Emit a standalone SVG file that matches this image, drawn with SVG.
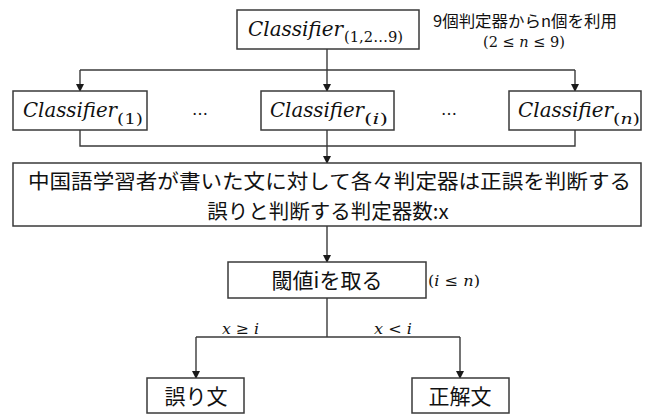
<svg xmlns="http://www.w3.org/2000/svg" width="648" height="414" viewBox="0 0 648 414">
<defs>
<style>
.box{fill:#fff;stroke:#3a3a3a;stroke-width:1.5}
.ln{fill:none;stroke:#3a3a3a;stroke-width:1.4}
.jp{font-family:"Noto Sans CJK JP","Noto Sans",sans-serif;fill:#111}
.m{font-family:"DejaVu Serif","Liberation Serif",serif;font-style:italic;fill:#111}
.up{font-family:"DejaVu Serif","Liberation Serif",serif;fill:#111}
</style>
<marker id="ah" markerWidth="8" markerHeight="8" refX="7" refY="4" orient="auto" markerUnits="userSpaceOnUse">
<path d="M0,0 L8,4 L0,8 Z" fill="#1a1a1a"/>
</marker>
</defs>
<rect width="648" height="414" fill="#fff"/>
<g id="connectors">
<path class="ln" d="M327,49 V70"/>
<path class="ln" d="M80,70 H575" />
<path class="ln" d="M80,70 V91" marker-end="url(#ah)"/>
<path class="ln" d="M327,70 V91" marker-end="url(#ah)"/>
<path class="ln" d="M575,70 V91" marker-end="url(#ah)"/>
<path class="ln" d="M80,130 V146 H575 V130"/>
<path class="ln" d="M327,130 V163" marker-end="url(#ah)"/>
<path class="ln" d="M327,226 V262" marker-end="url(#ah)"/>
<path class="ln" d="M327,298 V337"/>
<path class="ln" d="M196,337 H460"/>
<path class="ln" d="M196,337 V378" marker-end="url(#ah)"/>
<path class="ln" d="M460,337 V378" marker-end="url(#ah)"/>
<text class="m" x="222" y="334" font-size="15" textLength="37" lengthAdjust="spacingAndGlyphs">x ≥ i</text>
<text class="m" x="374" y="334" font-size="15" textLength="38" lengthAdjust="spacingAndGlyphs">x &lt; i</text>
</g>
<g id="top">
<rect class="box" x="237" y="10" width="182" height="39"/>
<text class="m" x="248" y="36" font-size="20" textLength="95" lengthAdjust="spacingAndGlyphs">Classifier</text>
<text class="up" x="344" y="42" font-size="14" textLength="59" lengthAdjust="spacingAndGlyphs">(1,2…9)</text>
</g>
<g id="note">
<text class="jp" x="433" y="27" font-size="16" textLength="184" lengthAdjust="spacingAndGlyphs">9個判定器からn個を利用</text>
<text class="up" x="483" y="47" font-size="15" textLength="82" lengthAdjust="spacingAndGlyphs">(2 ≤ <tspan font-style="italic">n</tspan> ≤ 9)</text>
</g>
<g id="c1">
<rect class="box" x="13" y="91" width="134" height="39"/>
<text class="m" x="23" y="117" font-size="20" textLength="94" lengthAdjust="spacingAndGlyphs">Classifier</text>
<text class="up" x="117" y="124" font-size="14" textLength="26" lengthAdjust="spacingAndGlyphs">(1)</text>
</g>
<g id="dots1"><text class="up" x="200" y="115" font-size="16" text-anchor="middle">…</text></g>
<g id="ci">
<rect class="box" x="261" y="91" width="133" height="39"/>
<text class="m" x="270" y="117" font-size="20" textLength="94" lengthAdjust="spacingAndGlyphs">Classifier</text>
<text class="up" x="364" y="124" font-size="14" textLength="24" lengthAdjust="spacingAndGlyphs">(<tspan font-style="italic">i</tspan>)</text>
</g>
<g id="dots2"><text class="up" x="449" y="115" font-size="16" text-anchor="middle">…</text></g>
<g id="cn">
<rect class="box" x="509" y="91" width="132" height="39"/>
<text class="m" x="518" y="117" font-size="20" textLength="95" lengthAdjust="spacingAndGlyphs">Classifier</text>
<text class="up" x="613" y="124" font-size="14" textLength="27" lengthAdjust="spacingAndGlyphs">(<tspan font-style="italic">n</tspan>)</text>
</g>
<g id="judge">
<rect class="box" x="13" y="163" width="628" height="63"/>
<text class="jp" x="28" y="189" font-size="20" textLength="603" lengthAdjust="spacingAndGlyphs">中国語学習者が書いた文に対して各々判定器は正誤を判断する</text>
<text class="jp" x="328" y="219" font-size="20.5" text-anchor="middle">誤りと判断する判定器数:x</text>
</g>
<g id="threshold">
<rect class="box" x="228" y="262" width="198" height="36"/>
<text class="jp" x="327" y="288" font-size="21" text-anchor="middle">閾値iを取る</text>
<text class="up" x="428" y="286" font-size="15" textLength="52" lengthAdjust="spacingAndGlyphs">(<tspan font-style="italic">i</tspan> ≤ <tspan font-style="italic">n</tspan>)</text>
</g>
<g id="err">
<rect class="box" x="147" y="378" width="97" height="35"/>
<text class="jp" x="196" y="404" font-size="21" text-anchor="middle">誤り文</text>
</g>
<g id="ok">
<rect class="box" x="412" y="378" width="97" height="35"/>
<text class="jp" x="460" y="404" font-size="21" text-anchor="middle">正解文</text>
</g>
</svg>
